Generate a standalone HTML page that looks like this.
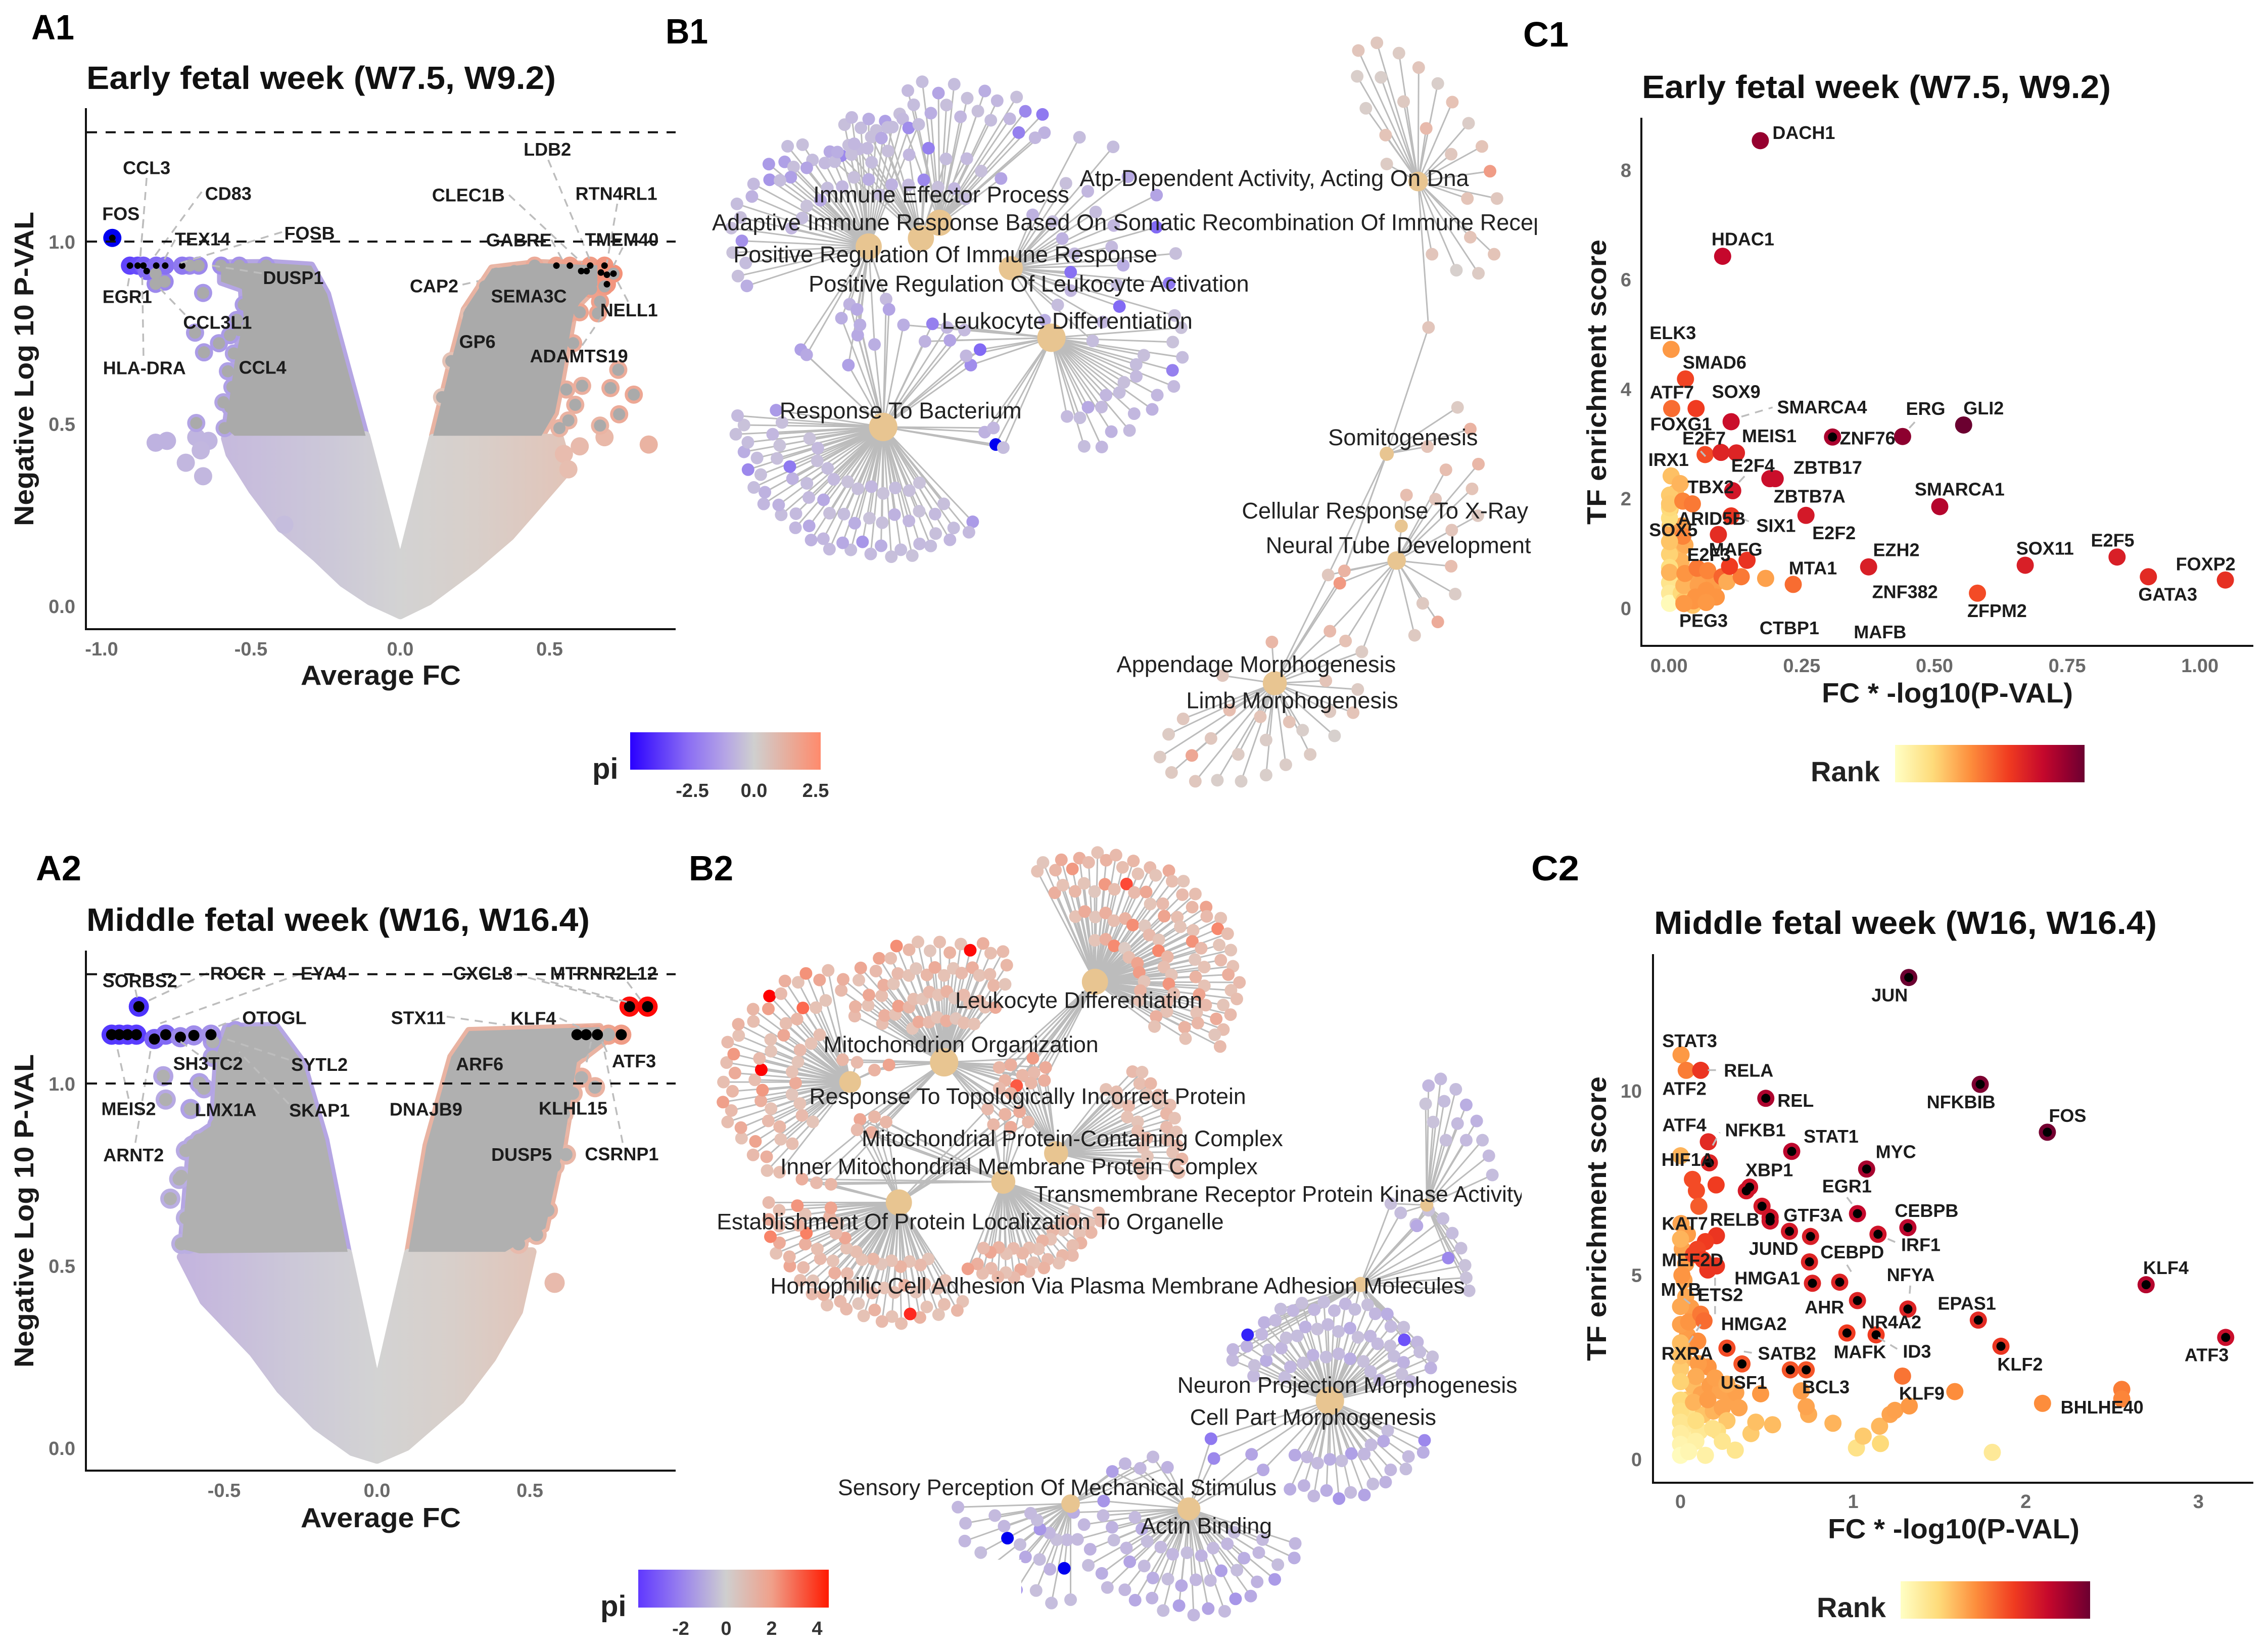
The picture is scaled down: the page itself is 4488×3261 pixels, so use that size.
<!DOCTYPE html>
<html lang="en">
<head>
<meta charset="utf-8">
<title>Fetal week volcano plots, gene networks and TF enrichment</title>
<style>
html,body{margin:0;padding:0;background:#fff}
svg{display:block}
text{font-family:"Liberation Sans",sans-serif}
.b{font-weight:700}
.gene text{font-weight:700;font-size:36px;fill:#1c1c1c;text-anchor:middle}
.term{font-size:44.5px}
.term text{font-weight:400;fill:#222;text-anchor:middle}
.tick{font-weight:700;font-size:38px;fill:#6a6a6a}
.leg{font-weight:700;font-size:38px;fill:#333}
</style>
</head>
<body>
<svg id="figure" xmlns="http://www.w3.org/2000/svg" width="4488" height="3261" viewBox="0 0 4488 3261">
<defs>
<linearGradient id="a1-fill" gradientUnits="userSpaceOnUse" x1="450" y1="0" x2="1130" y2="0">
<stop offset="0" stop-color="#c6badd"/><stop offset=".3" stop-color="#ccc8d8"/><stop offset=".5" stop-color="#d3d3d3"/><stop offset=".72" stop-color="#d8cfca"/><stop offset="1" stop-color="#e2c4b8"/>
</linearGradient>
<linearGradient id="a2-fill" gradientUnits="userSpaceOnUse" x1="370" y1="0" x2="1070" y2="0">
<stop offset="0" stop-color="#c4b5de"/><stop offset=".3" stop-color="#ccc8d8"/><stop offset=".54" stop-color="#d3d3d3"/><stop offset=".75" stop-color="#d8cfca"/><stop offset="1" stop-color="#e2c4b8"/>
</linearGradient>
<linearGradient id="pi-bar-1"><stop offset="0" stop-color="#2a00ff"/><stop offset=".3" stop-color="#8a6cf4"/><stop offset=".5" stop-color="#b5a5e5"/><stop offset=".65" stop-color="#cfcfcf"/><stop offset=".85" stop-color="#eaa996"/><stop offset="1" stop-color="#ff8a6c"/></linearGradient>
<linearGradient id="pi-bar-2"><stop offset="0" stop-color="#6038ff"/><stop offset=".22" stop-color="#9880ee"/><stop offset=".46" stop-color="#cfcfcf"/><stop offset=".7" stop-color="#f0a08a"/><stop offset="1" stop-color="#ff1a00"/></linearGradient>
<linearGradient id="rank-bar"><stop offset="0" stop-color="#ffffc4"/><stop offset=".2" stop-color="#fedb7a"/><stop offset=".4" stop-color="#fd8d3c"/><stop offset=".6" stop-color="#f03b20"/><stop offset=".78" stop-color="#c5082c"/><stop offset=".9" stop-color="#96002f"/><stop offset="1" stop-color="#6b0030"/></linearGradient>
<clipPath id="clip-b1"><rect x="1300" y="0" width="1741" height="1600"/></clipPath>
<clipPath id="clip-b2"><rect x="1300" y="1650" width="1711" height="1611"/></clipPath>
</defs>

<!-- Panel letters -->
<text class="b" x="62" y="78" font-size="70" textLength="85" lengthAdjust="spacingAndGlyphs">A1</text>
<text class="b" x="1317" y="86" font-size="70" textLength="84" lengthAdjust="spacingAndGlyphs">B1</text>
<text class="b" x="3014" y="92" font-size="70" textLength="90" lengthAdjust="spacingAndGlyphs">C1</text>
<text class="b" x="71" y="1742" font-size="70" textLength="90" lengthAdjust="spacingAndGlyphs">A2</text>
<text class="b" x="1363" y="1742" font-size="70" textLength="88" lengthAdjust="spacingAndGlyphs">B2</text>
<text class="b" x="3030" y="1742" font-size="70" textLength="95" lengthAdjust="spacingAndGlyphs">C2</text>

<!-- Titles -->
<text class="b" x="171" y="176" font-size="64" fill="#111" textLength="929" lengthAdjust="spacingAndGlyphs">Early fetal week (W7.5, W9.2)</text>
<text class="b" x="3249" y="194" font-size="64" fill="#111" textLength="928" lengthAdjust="spacingAndGlyphs">Early fetal week (W7.5, W9.2)</text>
<text class="b" x="171" y="1842" font-size="64" fill="#111" textLength="996" lengthAdjust="spacingAndGlyphs">Middle fetal week (W16, W16.4)</text>
<text class="b" x="3273" y="1848" font-size="64" fill="#111" textLength="995" lengthAdjust="spacingAndGlyphs">Middle fetal week (W16, W16.4)</text>

<!-- Mark layers -->
<g id="a1-marks"></g>
<g id="a2-marks"></g>
<g id="b1-edges"></g>
<g id="b1-nodes"></g>
<g id="b2-edges"></g>
<g id="b2-nodes"></g>
<g id="c1-marks"></g>
<g id="c2-marks"></g>
<g id="axes"></g>

<!-- Axis spines -->
<path d="M170 214V1245H1337" fill="none" stroke="#111" stroke-width="4"/>
<path d="M170 1881V2910H1337" fill="none" stroke="#111" stroke-width="4"/>
<path d="M3248 233V1278H4459" fill="none" stroke="#111" stroke-width="4"/>
<path d="M3271 1888V2934H4459" fill="none" stroke="#111" stroke-width="4"/>

<!-- Axis titles -->
<text class="b" x="595" y="1355" font-size="55" fill="#1a1a1a" textLength="317" lengthAdjust="spacingAndGlyphs">Average FC</text>
<text class="b" x="595" y="3022" font-size="55" fill="#1a1a1a" textLength="317" lengthAdjust="spacingAndGlyphs">Average FC</text>
<text class="b" transform="translate(66,730) rotate(-90)" x="-311" y="0" font-size="54" fill="#1a1a1a" textLength="622" lengthAdjust="spacingAndGlyphs">Negative Log 10 P-VAL</text>
<text class="b" transform="translate(66,2396) rotate(-90)" x="-310" y="0" font-size="54" fill="#1a1a1a" textLength="620" lengthAdjust="spacingAndGlyphs">Negative Log 10 P-VAL</text>
<text class="b" x="3605" y="1390" font-size="55" fill="#1a1a1a" textLength="497" lengthAdjust="spacingAndGlyphs">FC * -log10(P-VAL)</text>
<text class="b" x="3617" y="3044" font-size="55" fill="#1a1a1a" textLength="498" lengthAdjust="spacingAndGlyphs">FC * -log10(P-VAL)</text>
<text class="b" transform="translate(3178,756) rotate(-90)" x="-282" y="0" font-size="54" fill="#1a1a1a" textLength="564" lengthAdjust="spacingAndGlyphs">TF enrichment score</text>
<text class="b" transform="translate(3178,2411) rotate(-90)" x="-282" y="0" font-size="54" fill="#1a1a1a" textLength="563" lengthAdjust="spacingAndGlyphs">TF enrichment score</text>

<!-- Colour legends -->
<g>
<rect x="1247" y="1449" width="377" height="74" fill="url(#pi-bar-1)"/>
<text class="b" x="1172" y="1541" font-size="58" fill="#222">pi</text>
</g>
<g>
<rect x="1263" y="3106" width="377" height="75" fill="url(#pi-bar-2)"/>
<text class="b" x="1188" y="3198" font-size="58" fill="#222">pi</text>
</g>
<g>
<rect x="3750" y="1474" width="375" height="74" fill="url(#rank-bar)"/>
<text class="b" x="3583" y="1546" font-size="56" fill="#222">Rank</text>
</g>
<g>
<rect x="3761" y="3129" width="375" height="74" fill="url(#rank-bar)"/>
<text class="b" x="3595" y="3200" font-size="56" fill="#222">Rank</text>
</g>

<!-- Network term labels -->
<g class="term zoomed" style="font-size:45.2px" data-t="1300,0,1.148,1.0204" clip-path="url(#clip-b1)">
<text x="490" y="377">Immune Effector Process</text>
<text x="1064" y="345">Atp-Dependent Activity, Acting On Dna</text>
<text x="95" y="431" style="text-anchor:start">Adaptive Immune Response Based On Somatic Recombination Of Immune Receptors Built From Immunoglobulin Superfamily Domains</text>
<text x="497" y="493">Positive Regulation Of Immune Response</text>
<text x="641" y="550">Positive Regulation Of Leukocyte Activation</text>
<text x="707" y="622">Leukocyte Differentiation</text>
<text x="420" y="796">Response To Bacterium</text>
<text x="1286" y="848">Somitogenesis</text>
<text x="1255" y="990">Cellular Response To X-Ray</text>
<text x="1278" y="1057">Neural Tube Development</text>
<text x="1033" y="1288">Appendage Morphogenesis</text>
<text x="1095" y="1358">Limb Morphogenesis</text>
</g>
<g class="term zoomed" data-t="1300,1650,1.148,1.0274" clip-path="url(#clip-b2)">
<text x="727" y="320">Leukocyte Differentiation</text>
<text x="524" y="405">Mitochondrion Organization</text>
<text x="639" y="505">Response To Topologically Incorrect Protein</text>
<text x="716" y="586">Mitochondrial Protein-Containing Complex</text>
<text x="624" y="640">Inner Mitochondrial Membrane Protein Complex</text>
<text x="650" y="693" style="text-anchor:start">Transmembrane Receptor Protein Kinase Activity</text>
<text x="540" y="746">Establishment Of Protein Localization To Organelle</text>
<text x="794" y="870">Homophilic Cell Adhesion Via Plasma Membrane Adhesion Molecules</text>
<text x="1190" y="1061">Neuron Projection Morphogenesis</text>
<text x="1131" y="1123">Cell Part Morphogenesis</text>
<text x="690" y="1258">Sensory Perception Of Mechanical Stimulus</text>
<text x="947" y="1332">Actin Binding</text>
</g>

<!-- Gene labels -->
<g class="gene zoomed" data-t="0,0,.8929,1.0204">
<text x="325" y="325">CCL3</text>
<text x="506" y="375">CD83</text>
<text x="268" y="414">FOS</text>
<text x="449" y="463">TEX14</text>
<text x="686" y="452">FOSB</text>
<text x="1213" y="289">LDB2</text>
<text x="1038" y="378">CLEC1B</text>
<text x="1366" y="375">RTN4RL1</text>
<text x="1150" y="465">GABRE</text>
<text x="1378" y="464">TMEM40</text>
<text x="282" y="575">EGR1</text>
<text x="650" y="538">DUSP1</text>
<text x="482" y="625">CCL3L1</text>
<text x="320" y="713">HLA-DRA</text>
<text x="582" y="712">CCL4</text>
<text x="962" y="554">CAP2</text>
<text x="1172" y="574">SEMA3C</text>
<text x="1394" y="601">NELL1</text>
<text x="1058" y="662">GP6</text>
<text x="1283" y="690">ADAMTS19</text>
</g>
<g class="gene zoomed" data-t="0,1650,.8929,1.0274">
<text x="310" y="283">SORBS2</text>
<text x="525" y="268">ROCR</text>
<text x="717" y="268">EYA4</text>
<text x="1070" y="268">CXCL8</text>
<text x="1338" y="268">MTRNR2L12</text>
<text x="608" y="354">OTOGL</text>
<text x="927" y="354">STX11</text>
<text x="1182" y="355">KLF4</text>
<text x="461" y="442">SH3TC2</text>
<text x="708" y="444">SYTL2</text>
<text x="1063" y="443">ARF6</text>
<text x="1405" y="437">ATF3</text>
<text x="285" y="529">MEIS2</text>
<text x="500" y="531">LMX1A</text>
<text x="708" y="532">SKAP1</text>
<text x="944" y="530">DNAJB9</text>
<text x="1270" y="528">KLHL15</text>
<text x="296" y="618">ARNT2</text>
<text x="1156" y="617">DUSP5</text>
<text x="1378" y="616">CSRNP1</text>
</g>
<g class="gene zoomed" data-t="3000,0,.949,1.0204">
<text x="600" y="257">DACH1</text>
<text x="473" y="463">HDAC1</text>
<text x="327" y="645">ELK3</text>
<text x="414" y="702">SMAD6</text>
<text x="325" y="760">ATF7</text>
<text x="459" y="759">SOX9</text>
<text x="638" y="789">SMARCA4</text>
<text x="854" y="792">ERG</text>
<text x="975" y="791">GLI2</text>
<text x="344" y="822">FOXG1</text>
<text x="392" y="849">E2F7</text>
<text x="528" y="845">MEIS1</text>
<text x="733" y="849">ZNF76</text>
<text x="318" y="891">IRX1</text>
<text x="494" y="902">E2F4</text>
<text x="650" y="906">ZBTB17</text>
<text x="406" y="944">TBX2</text>
<text x="925" y="948">SMARCA1</text>
<text x="612" y="962">ZBTB7A</text>
<text x="408" y="1005">ARID5B</text>
<text x="542" y="1019">SIX1</text>
<text x="328" y="1027">SOX5</text>
<text x="663" y="1033">E2F2</text>
<text x="402" y="1075">E2F3</text>
<text x="458" y="1065">MAFG</text>
<text x="793" y="1066">EZH2</text>
<text x="1103" y="1063">SOX11</text>
<text x="1244" y="1047">E2F5</text>
<text x="1438" y="1093">FOXP2</text>
<text x="619" y="1101">MTA1</text>
<text x="811" y="1147">ZNF382</text>
<text x="1359" y="1152">GATA3</text>
<text x="1003" y="1184">ZFPM2</text>
<text x="391" y="1203">PEG3</text>
<text x="570" y="1217">CTBP1</text>
<text x="759" y="1225">MAFB</text>
</g>
<g class="gene zoomed" data-t="3000,1650,.949,1.0274">
<text x="779" y="310">JUN</text>
<text x="362" y="398">STAT3</text>
<text x="485" y="455">RELA</text>
<text x="351" y="490">ATF2</text>
<text x="928" y="516">NFKBIB</text>
<text x="583" y="513">REL</text>
<text x="1150" y="542">FOS</text>
<text x="351" y="560">ATF4</text>
<text x="499" y="570">NFKB1</text>
<text x="657" y="582">STAT1</text>
<text x="792" y="612">MYC</text>
<text x="358" y="627">HIF1A</text>
<text x="528" y="647">XBP1</text>
<text x="690" y="678">EGR1</text>
<text x="856" y="725">CEBPB</text>
<text x="620" y="734">GTF3A</text>
<text x="352" y="750">KAT7</text>
<text x="456" y="742">RELB</text>
<text x="844" y="791">IRF1</text>
<text x="537" y="798">JUND</text>
<text x="701" y="805">CEBPD</text>
<text x="368" y="820">MEF2D</text>
<text x="823" y="849">NFYA</text>
<text x="1355" y="835">KLF4</text>
<text x="524" y="855">HMGA1</text>
<text x="344" y="877">MYB</text>
<text x="426" y="887">ETS2</text>
<text x="940" y="904">EPAS1</text>
<text x="643" y="911">AHR</text>
<text x="783" y="940">NR4A2</text>
<text x="496" y="943">HMGA2</text>
<text x="565" y="1000">SATB2</text>
<text x="357" y="1000">RXRA</text>
<text x="717" y="997">MAFK</text>
<text x="836" y="996">ID3</text>
<text x="1440" y="1003">ATF3</text>
<text x="1051" y="1021">KLF2</text>
<text x="475" y="1056">USF1</text>
<text x="646" y="1065">BCL3</text>
<text x="846" y="1077">KLF9</text>
<text x="1222" y="1104">BHLHE40</text>
</g>
</svg>

<script>
// ---------- A1 volcano values (average FC, -log10 p, pi) ----------
const a1XTicks=[-1,-0.5,0,0.5];
const a1YTicks=[0,0.5,1];
const a1Thresholds=[1,1.3];
const a1LowerFC=[0,-.116,-.585,-.57,-.494,-.403,-.282,-.192,-.101,0,.095,.246,.367,.443,.563,.533,.11];
const a1LowerP=[.106,.467,.46,.417,.318,.219,.134,.064,.014,-.024,.014,.106,.191,.262,.375,.46,.46];
const a1LeftFC=[-.116,-.245,-.298,-.434,-.6,-.6,-.53,-.524,-.554,-.585,-.555];
const a1LeftP=[.467,.856,.934,.941,.94,.89,.87,.785,.672,.488,.467];
const a1RightFC=[.11,.171,.216,.307,.458,.66,.66,.6,.58,.54,.518,.473];
const a1RightP=[.467,.672,.813,.926,.941,.935,.88,.83,.8,.62,.53,.467];
const a1CoreFC=[-.964,-.905,-.879,-.86,-.849,-.817,-.787,-.73,.523,.568,.606,.624,.636,.672,.684,.692,.714,.692];
const a1CoreP=[1.01,.934,.934,.934,.919,.934,.934,.934,.934,.934,.919,.919,.934,.915,.934,.909,.912,.883];
const a1CorePi=[-4.6,-2.9,-2.8,-2.6,-2.4,-2.4,-2.3,-2.2,1.8,1.9,2,2,2,2.2,2.2,2.3,2.3,2.2];
const a1RimFC=[-.819,-.789,-.819,-.705,-.675,-.6,-.539,-.449,-.66,-.687,-.607,-.657,-.557,-.562,-.569,-.588,-.683,-.524,-.539,.45,.382,.322,.284,.669,.662,.601,.56,.518,.465,.579,.503,.73,.704,.782,.733,.609,.556,.503,.586,.563,.533,.669,.639,.684,.714,-.517,-.547,-.57,-.524,-.577,-.592,-.532,.48,.458,.473,.45,.412,.495,.563,.624,.518,.292,.231,.171,.14];
const a1RimP=[.912,.89,.884,.934,.934,.934,.934,.934,.859,.75,.721,.696,.693,.601,.545,.488,.502,.827,.757,.934,.919,.912,.877,.835,.803,.806,.799,.774,.799,.721,.707,.648,.598,.58,.526,.604,.594,.601,.552,.509,.488,.495,.87,.877,.912,.891,.785,.743,.7,.644,.559,.53,.757,.672,.573,.516,.813,.842,.856,.891,.898,.827,.8,.672,.573];
const a1RimPi=[-2.1,-2,-2,-2,-2,-1.9,-1.8,-1.7,-1.7,-1.6,-1.6,-1.6,-1.5,-1.5,-1.4,-1.4,-1.4,-1.6,-1.5,1.6,1.4,1.3,1.3,1.9,1.8,1.8,1.7,1.6,1.6,1.6,1.5,1.6,1.6,1.7,1.6,1.5,1.5,1.4,1.5,1.4,1.4,1.4,1.9,2,2.1,-1.7,-1.6,-1.6,-1.5,-1.5,-1.4,-1.4,1.5,1.4,1.4,1.3,1.5,1.6,1.7,1.8,1.7,1.2,1.1,1,.9];
const a1PaleFC=[-.819,-.781,-.642,-.683,-.668,-.718,-.66,-.388,.832,.684,.601,.548,.563];
const a1PaleP=[.448,.453,.453,.463,.427,.393,.356,.223,.443,.463,.438,.417,.375];
const a1PalePi=[-1.1,-1.1,-1.05,-1.05,-1,-1,-1,-.8,1.4,1.25,1.2,1.15,1.1];
const a1PiTicks=[-2.5,0,2.5];

// ---------- A2 volcano values ----------
const a2XTicks=[-0.5,0,0.5];
const a2YTicks=[0,0.5,1];
const a2Thresholds=[1,1.3];
const a2LowerFC=[0,-.096,-.64,-.566,-.404,-.316,-.199,-.081,0,.096,.272,.375,.463,.507,.103];
const a2LowerP=[.161,.534,.524,.403,.261,.161,.061,-.01,-.031,.004,.132,.246,.375,.538,.534];
const a2LeftFC=[-.096,-.169,-.243,-.331,-.493,-.522,-.537,-.61,-.64,-.581];
const a2LeftP=[.538,.845,1.058,1.158,1.155,1.087,.887,.845,.546,.534];
const a2RightFC=[.103,.162,.243,.301,.728,.743,.654,.61,.551,.419];
const a2RightP=[.538,.83,1.073,1.144,1.155,1.115,1.058,.83,.603,.538];
const a2CoreFC=[-.868,-.843,-.816,-.787,-.779,-.728,-.691,-.643,-.599,-.543,.654,.684,.721,.799,.826,.885];
const a2CoreP=[1.134,1.134,1.134,1.134,1.211,1.122,1.134,1.127,1.132,1.134,1.134,1.134,1.134,1.134,1.211,1.211];
const a2CorePi=[-3.1,-3.1,-3,-3,-3.2,-2.5,-2.4,-2,-1.9,-1.8,1.6,1.7,1.7,2,4.3,4.4];
const a2RimFC=[-.699,-.691,-.61,-.581,-.493,-.603,-.647,-.676,-.596,-.596,-.61,-.618,-.463,.713,.669,.618,.596,.551,.559,.522,.478,.757,-.537,-.566,-.522,-.581,-.625,-.64,-.625,-.64,-.537,.669,.64,.61,.581,.522,.537,.463];
const a2RimP=[1.02,.956,.93,1.001,.987,.83,.738,.684,.774,.688,.603,.56,1.144,.99,1.016,.805,.873,.702,.652,.585,.603,1.134,1.073,.987,.887,.845,.816,.745,.631,.56,1.115,1.087,.973,.916,.774,.645,.702,.56];
const a2RimPi=[-1.4,-1.3,-1.5,-1.5,-1.5,-1.3,-1.2,-1.2,-1.3,-1.2,-1.2,-1.2,-1.6,1.4,1.5,1.3,1.3,1.3,1.4,1.3,1.3,1.8,-1.5,-1.4,-1.4,-1.3,-1.3,-1.2,-1.2,-1.2,-1.6,1.4,1.4,1.3,1.3,1.2,1.2,1.2];
const a2PaleFC=[.581];
const a2PaleP=[.453];
const a2PalePi=[1.2];
const a2PiTicks=[-2,0,2,4];

// ---------- C1 TF enrichment values ----------
const c1XTicks=[0,.25,.5,.75,1];
const c1YTicks=[0,2,4,6,8];
const c1Rank=[22,18,15,12,8,3,20,25,30,38,35,38,38,30,33,36,42,38,45,42,50,32,26,45,35,48,56,58,56,60,60,62,63,65,68,68,70,70,72,73,76,76,76,78,85,90,92,100,18,20,24,27,25,30,42,45,48,37,38,37,37];
const c1Fold=[.001,.001,.001,.001,.001,.001,.023,.028,.028,.046,.055,.07,.089,.001,.003,.025,.026,.03,.053,.073,.1,.109,.001,.136,.182,.234,.068,.031,.581,.051,.114,.117,.147,.093,.098,.127,.376,.671,.258,.12,.19,.2,.117,.101,.308,.172,.44,.555,.001,.001,.001,.004,.001,.021,.026,.044,.005,.004,.05,.028,.07];
const c1Score=[.98,.74,.46,.27,.085,.085,.27,.13,.41,.13,.41,.32,.2,.65,1.4,1.5,1.31,.63,.725,.68,.57,.48,1.21,.57,.54,.43,2.8,4.18,.27,3.64,.76,1.68,.87,1.34,2.84,2.83,.75,.78,1.69,2.14,2.36,2.36,3.4,6.42,3.12,8.53,3.13,3.34,1.64,1.83,2.06,2.41,1.9,2.27,1.95,1.9,3.64,4.72,.2,.08,.1];
const c1CoreFold=[.308];
const c1CoreScore=[3.12];
const c1ExtraFold=[.844,.903,1.048,.51,.023,.012,.002,.023,.04,.06,.045,.01,.002,.012,.03,.065,.085];
const c1ExtraScore=[.93,.57,.51,1.85,1.1,.85,1.5,.85,.55,.25,.05,.55,1.8,2.1,1.15,.52,.42];
const c1ExtraRank=[70,66,64,82,28,24,24,30,34,30,26,18,26,28,32,36,36];
const c1LegendTicks=[20,40,60,80,99];

// ---------- C2 TF enrichment values ----------
const c2XTicks=[0,1,2,3];
const c2YTicks=[0,5,10];
const c2Fold=[0,0,0,0,0,0,.075,.089,.089,.047,.158,.242,.339,.269,.214,.242,.317,.144,.186,.408,.436,.533,.883,.742,.728,.7,.464,.2,.269,.103,.089,0,0,0,0,0,0,.047,1.019,1.158,1.058,1.153,1.806,1.214,1.242,1.325,1.589,1.286,2.097,2.556,2.556,.003,0,.003,0,.008,.117,.136,.033,.117,.161,.069,.092,.206,.106,.208,.144,.097,.075,.158,.208,.13];
const c2Score=[1.6,1.3,1,.7,.4,.1,1.54,1.04,.48,.2,1.61,1.39,1.39,1.04,.76,.48,.24,.1,.83,.69,1,.93,.97,1.21,1.42,1.85,1.77,2.2,2.03,2.59,2.24,2.45,2.1,2.8,3.15,3.65,4.14,3.72,.3,.42,.62,.89,.18,1.21,1.32,1.44,1.83,2.25,1.51,1.89,1.63,10.97,8.23,6.39,5.97,4.99,3.93,3.75,10.55,10.55,8.61,7.59,7.28,7.44,6.86,6.06,5.9,5.69,5.55,5.13,5.24,5.41];
const c2Rank=[20,18,14,10,6,2,30,18,8,5,36,34,34,25,18,14,14,8,16,24,27,28,30,32,34,36,37,35,32,36,32,24,22,27,28,35,33,38,16,20,24,29,12,34,35,37,40,46,40,44,42,37,30,34,30,38,45,48,44,62,66,56,56,60,52,62,60,58,58,62,62,60];
const c2ExtraFold=[.03,.06,.11,.02,.05,.13,.19,.29,.035,.07,.12,.17,.23,.32,.02,.05,.04,.1,.16,.03,.06,.02,.03,.01,.04];
const c2ExtraScore=[.2,.55,.75,.9,1.2,1.2,1.3,1.65,1.6,2,1.75,2,1.85,1.8,2.7,3.05,3.35,3.2,2.5,4.4,4.1,4.85,5.3,5.7,6.1];
const c2ExtraRank=[4,9,13,12,16,26,30,34,26,28,34,36,34,35,30,34,36,40,38,33,36,34,36,34,36];
const c2CoreFold=[.167,.269,.356,.636,.728,.381,.4,.472,.519,.519,.631,.753,.747,.764,.922,1.025,1.025,1.133,.964,1.144,1.317,1.317,.644,.494,1.078,1.725,1.856,2.697,3.158,1.736,2.125,1.322];
const c2CoreScore=[8.04,3.01,2.58,2.42,2.42,7.28,7.38,6.86,6.56,6.46,6.18,6.04,5.35,4.77,4.8,6.66,4.3,3.37,3.42,6.1,6.28,4.07,8.35,9.79,7.87,3.77,3.06,4.73,3.3,10.17,8.87,13.07];
const c2CoreRank=[68,56,54,54,54,72,74,72,74,74,72,70,68,68,68,78,68,60,60,74,80,68,80,84,86,66,62,82,76,96,98,100];
const c2LegendTicks=[10,40,70,95];

// ---------- B1 network: pi per gene ----------
const b1BactOuterPi=[-1.6,-.9,-.8,-1,-.7,-.8,-.9,-.6,-.8,-.7,-1.2,-.9,-1.7,-.8,-1.3,-.9,-1,-1.1,-1.3,-1,-.9,-.8,-1.1,-1,-1.1,-.8,-.7,-2,-.8,-1.2,-.8,-.7,-.6,-.9];
const b1BactMidPi=[-.7,-.9,-.6,-1,-1.1,-.7,-.6,-1.2,-.8,-.7,-1.3,-.9,-.8,-1.1,-2.2,-.7,-.6,-1,-.7,-1.6];
const b1BactInnerPi=[-.6,-.7,-.8,-.6,-1,-.7,-.6,-.9,-.8,-.7,-.9,-.6];
const b1DiffOuterPi=[-.8,-1,-1.1,-.9,-1,-1.1,-1,-.9,-2.1,-.8,-.6,-.6];
const b1DiffInnerPi=[-.9,-.8,-1.3,-.9,-1,-.8,-.7,-.9,-.8,-.7];
const b1TopOuterPi=[-.9,-.8,-1.4,-.8,-.7,-1.2,-1,-.7,-2,-2.2,-1.1];
const b1TopMidPi=[-.7,-.8,-1.2,-.7,-1,-.7,-.8,-1,-2.1,-1];
const b1TopInnerPi=[-.8,-.7,-1,-2.1,-.8,-.9,-.7,-1.4];
const b1TopCorePi=[-.8,-1.1,-.9,-2,-.7,-1,-.8];
const b1LeftOuterPi=[-.7,-.8,-1.5,-1.6,-1.7,-.9,-1.1,-.8,-.7,-.7,-1.8,-.6,-.8,-.7,-1.2];
const b1LeftMidPi=[-.9,-.7,-2,-1.3,-.9,-.8,-1.4,-.7,-1.5,-.8];
const b1LeftInnerPi=[-1.2,-.7,-1,-.8,-1.3,-.6,-.8,-1];
const b1GapPi=[-.7,-.9,-.8,-1.2,-.7,-1.5,-.8,-.9,-1.9,-.8];
const b1GapInnerPi=[-.8,-1.2,-.7,-1,-.9,-.7,-1.3,-.8];
const b1ActivOuterPi=[-.8,-.8,-1.3,-1.4,-2.4,-.7,-2.2,-.7];
const b1ActivMidPi=[-.7,-1,-.8,-1,-.9,-1.2,-.8,-2.4,-1,-.8];
const b1ActivInnerPi=[-1.1,-.8,-1.1,-.9,-2.3,-1,-.8,-1.2];
const b1SharedPi=[-1.5,-1.3,-1.5,-1.2,-1.3,-1.2,-1.2,-1.1,-1.3,-.9,-1.4,-2.1,-1.2,-1.1,-1.4,-.9,-1,-2.4,-1.9,-1];
const b1TailPi=[-1.1,-4.4,-.8,-1];
const b1AtpPi=[.8,.7,.5,.8,.3,1,.4,.9,2,.7,.9,.9,.5,.2,.8,.3,.3,.3,.6,.9,1.2,.5,.7,.9];
const b1BridgePi=[.8];
const b1SomitoPi=[.5,1.4,.9];
const b1NeuralPi=[1.3,1.1,.9,1.1,.8,.8,.6,1.1,.4,.6,1.6,.6];
const b1SharedLimbPi=[1.4,2.1,.7];
const b1LimbPi=[1.3,.8,.7,.9,.5,.9,.6,.3,.2,.5,.4,.3,.4,.3,.3,.7,.6,.5,1.7,.7,.5,.5,.7,1.1,.9,.9];
const b1LimbTopPi=[1,1.2,.5];

// ---------- B2 network: pi per gene ----------
const b2DiffOuterPi=[1,.8,1.3,1.6,2.1,1.5,1.2,1,1.4,1.2,1.1,1.3,1,1.2,.9,1.6,1.1,.9,1.2,1.1,1.3,1.8,1.2,1,2.6,1.1,.9,.9,1.2,1,1.5,1.2,1,1.1,.9,1.2,1.6,1.1,.8,1.2];
const b2DiffMidPi=[1.5,1,1.3,.9,.7,2.1,1.1,3.6,1.2,1.7,.9,1.2,1.8,1.1,.9,1,2.3,1.2,.8,1,1.4,1,1.8,1.2,1,1.3,1.4,1];
const b2DiffInnerPi=[1,1.6,.8,1.5,1.1,1.4,2.4,.7,1.2,.9,2.6,1.3,1.1,.9,2.2,1.1,1.2,1,1.5,1];
const b2DiffCorePi=[.9,1.5,2.5,.5,1.1,1.8,2,.9,1.4,1];
const b2MitoOuterPi=[1.2,1.5,1,1.7,1.2,1.8,1.1,2.4,1.3,1,.8,1.1,1.4,1,4.4,1.5,1.1,1.2,1.3];
const b2MitoMidPi=[1.2,1.4,1,1.7,1.1,1.5,.9,1.2,1,.8,1.3,1.6,1,.9,1.2,1.5,1,1.1,1.3,.9];
const b2MitoInnerPi=[1.1,1.5,1,1.9,1.3,1.1,.9,1.2,1,1.4,.7,1.2,1.1,1.3,1,1.6];
const b2MitoCorePi=[.9,1.6,1.2,1,1.5,.8,1.1,1];
const b2TopoOuterPi=[1.1,1,1.5,1.2,1.8,1,1.6,1.1,1.2,1.9,1.3,1.1,1.6,1.1,2.1,1.2,1,1.4,1.1,1.3,1.9,4.6,1.2,1.5,1,2.3,1.7,1.1];
const b2TopoMidPi=[1.1,1,1.3,1.2,1,1.5,2.1,1.1,4.7,1.2,.9,1,1.7,1.1,1.3,3.2,1,.9];
const b2TopoInnerPi=[.9,1.2,1,.8,1.6,1,.9,1.2,1,1.1];
const b2LocOuterPi=[1,1.3,1.1,.9,1,1.4,4,1.1,1,1.2,1.4,1,.8,1.2,1.2,1,1.4,1.2,.9,1.1,1.2,1.7,1.3,1,1.6,2.7,1.2,1.6,1.1,1.2];
const b2LocMidPi=[1.1,1,1.3,.9,1.4,1.1,1,1.2,1.1,.9,1.2,1.5,1,1.2,1.1,1.5,2.8,1.4,1,2.2];
const b2LocInnerPi=[.9,1.2,1,1.4,1,.8,1.3,1,1.1,1,1.7,1.2,1,1.4,1.8];
const b2InnerOuterPi=[1.1,1.2,1,1.3,1,1.4,1.1,1.2,1.3,1,1.2,1.4,1,1.2,1.6,1.2,1,1.3,1.2,1.1,1.5,1.9];
const b2InnerMidPi=[1,1.2,1.1,.9,1.3,1,1.4,1,1.1,1.3,1.2,1,1.4,1.7,1.2];
const b2ProtOuterPi=[1.2,1,1.1,1.3,1,1.2,.9,1.1,1.3,1,1.2,1,1.1,1.2,1,1.3,1,1.1];
const b2ProtMidPi=[1,1.1,.9,1.2,1,.9,1.1,1.3,1,.9,1.1,1];
const b2ClusterPi=[1.3,1.5,2,1.3,1.2,1.6,1.4,3.4,1.3,1.5,1.2,1.4,1.7,1.3,1.2,1.5,1.3,1.2,1.4,1.6,1.3,1.6,1.3,1.5,1.2,1.3,1.4,1.8,1.2,1.3];
const b2KinasePi=[-1,-.9,-.8,-1.2,-1.1,-.8,-.9,-.8,-.5,-.8,-.9,-.6,-.9,-.7];
const b2HomoPi=[-.8,-.7,-.6,-.8,-.8,-.7,-2,-.6,-.6,-.7,-.7,-1.3];
const b2NeuronTopOuterPi=[-.9,-1,-1.1,-3.6,-1,-1.1,-.9,-.8,-1,-.7,-1,-.8,-.9,-1,-.8,-.7,-1,-1.2,-.9,-.7,-2.7,-1,-.8,-.7,-1.1];
const b2NeuronTopMidPi=[-.9,-.7,-1.2,-.8,-1,-.7,-.8,-1.1,-.7,-.9,-.8,-1.2,-.7,-1,-.9,-.7,-.8,-1.1,-.7,-.9];
const b2NeuronTopInnerPi=[-.8,-1,-.7,-1.1,-.8,-.9,-1.2,-.7,-.8,-1];
const b2NeuronLowOuterPi=[-2,-1.2,-.9,-.8,-1,-1.1,-.8,-1.4,-.9,-1.7,-1.2,-1,-1.1,-1.2];
const b2NeuronLowMidPi=[-.8,-1.3,-.9,-1,-1.5,-.8,-1.2,-.9,-1,-1.3];
const b2BridgePi=[-2.2,-2,-1.3,-1.4];
const b2SensoryOuterPi=[-.8,-.8,-.7,-1.9,-.8,-.9,-.8,-1,-.9,-1];
const b2SensoryMidPi=[-4.4,-1.1,-.8,-1.3,-.8,-4.4,-1,-.9];
const b2SensoryInnerPi=[-.9,-.7,-1,-1.7,-.8,-.9];
const b2ActinOuterPi=[-1,-1.2,-.8,-1.6,-1.1,-1.3,-1.7,-.9,-1.4,-1,-1.5,-.8,-1.1,-1.3,-1,-.9,-1.2,-.8,-1.1,-.9,-1,-1.2];
const b2ActinMidPi=[-.9,-1,-1.2,-.8,-1.5,-.9,-1,-1.3,-.8,-1.2,-.9,-1.4,-1,-.8,-1.1,-.9];
const b2ActinInnerPi=[-.8,-1,-.9,-1.1,-.8,-1,-.9,-.8,-1.2,-.9];
const b2ActinTopPi=[-1.5,-1,-1,-.9,-1.1,-1.7];

// ---------- scales and layout (not data) ----------
const NS='http://www.w3.org/2000/svg';
const $=id=>document.getElementById(id);
function mk(tag,attrs,parent){
  const e=document.createElementNS(NS,tag);
  for(const k in attrs)e.setAttribute(k,attrs[k]);
  parent.appendChild(e);
  return e;
}
const a1X=v=>792+591*v, a1Y=v=>1199-721*v;
const a2X=v=>746+605*v, a2Y=v=>2865-721*v;
const c1X=v=>3302.7+1050.5*v, c1Y=v=>1203-108.4*v;
const c2X=v=>3325.5+341.6*v, c2Y=v=>2887-72.9*v;
const piBarA1=v=>1492+48.8*v, piBarA2=v=>1437+45*v;
const rankBarC1=v=>3750+3.75*v, rankBarC2=v=>3761+3.75*v;

function mix(stops,v){
  if(v<=stops[0][0])return stops[0][1];
  for(let i=1;i<stops.length;i++){
    if(v<=stops[i][0]){
      const t=(v-stops[i-1][0])/(stops[i][0]-stops[i-1][0]);
      const a=stops[i-1][1],b=stops[i][1];
      const h=(s,p)=>parseInt(s.substr(p,2),16);
      const c=p=>Math.round(h(a,p)+(h(b,p)-h(a,p))*t).toString(16).padStart(2,'0');
      return '#'+c(1)+c(3)+c(5);
    }
  }
  return stops[stops.length-1][1];
}
const piStops=[[-4.4,'#0000f0'],[-3,'#5a3cff'],[-2,'#9c88ec'],[-1,'#c2b7df'],[0,'#d3d3d3'],[1,'#e6c2b5'],[2,'#f09c86'],[3,'#fb7a5c'],[4.5,'#ff0000']];
const rankStops=[[0,'#ffffc4'],[20,'#fedb7a'],[40,'#fd8d3c'],[60,'#f03b20'],[78,'#c5082c'],[90,'#96002f'],[100,'#6b0030']];
const piColor=v=>mix(piStops,v);
const rankColor=v=>mix(rankStops,v);

// ---------- axes ----------
function xTicks(vals,fx,y,dec,layer,prefix){
  vals.forEach(v=>{
    const t=mk('text',{x:fx(v),y:y,'text-anchor':'middle','class':'tick'},layer);
    
    
    t.textContent=v.toFixed(dec);
  });
}
function yTicks(vals,fy,x,dec,layer,prefix){
  vals.forEach(v=>{
    const t=mk('text',{x:x,y:fy(v)+14,'text-anchor':'end','class':'tick'},layer);
    
    
    t.textContent=v.toFixed(dec);
  });
}
function thresholds(vals,fy,layer,prefix){
  vals.forEach(v=>{
    const l=mk('line',{x1:172,x2:1337,y1:fy(v),y2:fy(v),stroke:'#111','stroke-width':4,'stroke-dasharray':'20 17'},layer);
    
    
  });
}
function legendTicks(vals,fx,y0,y1,labelY,dec,layer,prefix,showText){
  vals.forEach(v=>{
    const a=mk('line',{x1:fx(v),x2:fx(v),y1:y0,y2:y0+14,stroke:'#fff','stroke-width':3},layer);
    
    
    const b=mk('line',{x1:fx(v),x2:fx(v),y1:y1-14,y2:y1,stroke:'#fff','stroke-width':3},layer);
    
    
    if(showText){
      const t=mk('text',{x:fx(v),y:labelY,'text-anchor':'middle','class':'leg'},layer);
      
      
      t.textContent=v.toFixed(dec);
    }
  });
}

// ---------- volcano ----------
function poly(fc,p,fx,fy,fill,stroke,sw,layer,name){
  const pts=fc.map((v,i)=>fx(v)+','+fy(p[i])).join(' ');
  const e=mk('polygon',{points:pts,fill:fill,stroke:stroke,'stroke-width':sw,'stroke-linejoin':'round'},layer);
  
  
}
function dots(fc,p,pi,fx,fy,layer,r,name){
  fc.forEach((v,i)=>{
    const c=mk('circle',{cx:fx(v),cy:fy(p[i]),r:r,fill:pi?piColor(pi[i]):'#000'},layer);
    
    
  });
}
function inner(fc,p,fx,fy,layer,r,fill,name){
  fc.forEach((v,i)=>{
    const c=mk('circle',{cx:fx(v),cy:fy(p[i]),r:r,fill:fill},layer);
    
    
  });
}
function leaders(list,ox,oy,sx,sy,layer,prefix){
  list.forEach(s=>{
    const l=mk('line',{x1:ox+sx*s[0],y1:oy+sy*s[1],x2:ox+sx*s[2],y2:oy+sy*s[3],stroke:'#bdbdbd','stroke-width':3.5,'stroke-dasharray':'16 12'},layer);
    
    
  });
}
const a1Layer=$('a1-marks'),a2Layer=$('a2-marks');
const greyA1='#aaaaaa',greyA2='#b0b0b0';

poly(a1LeftFC,a1LeftP,a1X,a1Y,'none','#b5a6e3',16,a1Layer,'a1-downregulated-genes-rim');
poly(a1RightFC,a1RightP,a1X,a1Y,'none','#e9b3a2',16,a1Layer,'a1-upregulated-genes-rim');
poly(a1LowerFC,a1LowerP,a1X,a1Y,'url(#a1-fill)','url(#a1-fill)',18,a1Layer,'a1-nonsignificant-genes-region');
dots(a1PaleFC,a1PaleP,a1PalePi,a1X,a1Y,a1Layer,18,'a1-gene-point');
dots(a1RimFC,a1RimP,a1RimPi,a1X,a1Y,a1Layer,18,'a1-gene-point');
dots(a1CoreFC,a1CoreP,a1CorePi,a1X,a1Y,a1Layer,18,'a1-top-gene-point');
poly(a1LeftFC,a1LeftP,a1X,a1Y,greyA1,'none',0,a1Layer,'a1-downregulated-genes-region');
poly(a1RightFC,a1RightP,a1X,a1Y,greyA1,'none',0,a1Layer,'a1-upregulated-genes-region');
inner(a1RimFC,a1RimP,a1X,a1Y,a1Layer,12,greyA1,'a1-gene-point-core');
inner(a1CoreFC,a1CoreP,a1X,a1Y,a1Layer,6.5,'#000','a1-top-gene-marker');

poly(a2LeftFC,a2LeftP,a2X,a2Y,'none','#b5a6e3',16,a2Layer,'a2-downregulated-genes-rim');
poly(a2RightFC,a2RightP,a2X,a2Y,'none','#e9b3a2',16,a2Layer,'a2-upregulated-genes-rim');
poly(a2LowerFC,a2LowerP,a2X,a2Y,'url(#a2-fill)','url(#a2-fill)',18,a2Layer,'a2-nonsignificant-genes-region');
dots(a2PaleFC,a2PaleP,a2PalePi,a2X,a2Y,a2Layer,20,'a2-gene-point');
dots(a2RimFC,a2RimP,a2RimPi,a2X,a2Y,a2Layer,20,'a2-gene-point');
dots(a2CoreFC,a2CoreP,a2CorePi,a2X,a2Y,a2Layer,20,'a2-top-gene-point');
poly(a2LeftFC,a2LeftP,a2X,a2Y,greyA2,'none',0,a2Layer,'a2-downregulated-genes-region');
poly(a2RightFC,a2RightP,a2X,a2Y,greyA2,'none',0,a2Layer,'a2-upregulated-genes-region');
inner(a2RimFC,a2RimP,a2X,a2Y,a2Layer,13,greyA2,'a2-gene-point-core');
inner(a2CoreFC,a2CoreP,a2X,a2Y,a2Layer,11,'#000','a2-top-gene-marker');

const axesLayer=$('axes');
const a1LeaderLayout=[[325,345,310,510],[447,372,340,500],[318,425,310,505],[625,450,400,510],[388,465,360,510],[283,555,288,530],[318,690,315,530],[410,610,355,560],[580,530,470,515],[1215,310,1310,510],[1368,395,1345,510],[1380,480,1360,515],[1128,378,1290,510],[1222,465,1250,510],[1025,552,1060,545],[1392,585,1365,540],[1290,670,1345,600]];
const a2LeaderLayout=[[300,300,305,320],[460,268,320,325],[665,270,355,365],[530,355,470,375],[440,425,400,400],[640,435,500,395],[285,510,258,405],[300,595,335,410],[640,520,530,420],[1140,270,1378,325],[1190,278,1395,325],[1390,285,1420,320],[990,352,1120,368],[1240,355,1290,375],[1345,420,1335,400],[1380,595,1335,400],[1300,440,1310,400]];
leaders(a1LeaderLayout,0,0,.8929,1.0204,axesLayer,'a1');
leaders(a2LeaderLayout,0,1650,.8929,1.0274,axesLayer,'a2');
thresholds(a1Thresholds,a1Y,axesLayer,'a1');
thresholds(a2Thresholds,a2Y,axesLayer,'a2');
xTicks(a1XTicks,a1X,1297,1,axesLayer,'a1');
yTicks(a1YTicks,a1Y,149,1,axesLayer,'a1');
xTicks(a2XTicks,a2X,2962,1,axesLayer,'a2');
yTicks(a2YTicks,a2Y,149,1,axesLayer,'a2');
xTicks(c1XTicks,c1X,1330,2,axesLayer,'c1');
yTicks(c1YTicks,c1Y,3228,0,axesLayer,'c1');
xTicks(c2XTicks,c2X,2984,0,axesLayer,'c2');
yTicks(c2YTicks,c2Y,3249,0,axesLayer,'c2');
legendTicks(a1PiTicks,piBarA1,1449,1523,1577,1,axesLayer,'a1-pi',true);
legendTicks(a2PiTicks,piBarA2,3106,3181,3235,0,axesLayer,'a2-pi',true);
legendTicks(c1LegendTicks,rankBarC1,1474,1548,0,0,axesLayer,'c1-rank',false);
legendTicks(c2LegendTicks,rankBarC2,3129,3203,0,0,axesLayer,'c2-rank',false);

// ---------- TF scatter ----------
function scatter(xs,ys,ranks,fx,fy,layer,name){
  xs.forEach((v,i)=>{
    const c=mk('circle',{cx:fx(v),cy:fy(ys[i]),r:17,fill:rankColor(ranks[i])},layer);
    
    
  });
}
scatter(c1ExtraFold,c1ExtraScore,c1ExtraRank,c1X,c1Y,$('c1-marks'),'c1-tf-point');
scatter(c1Fold,c1Score,c1Rank,c1X,c1Y,$('c1-marks'),'c1-tf-point');
c1CoreFold.forEach((v,i)=>{
  const d=mk('circle',{cx:c1X(v),cy:c1Y(c1CoreScore[i]),r:9,fill:'#000'},$('c1-marks'));
  
  
});
scatter(c2ExtraFold,c2ExtraScore,c2ExtraRank,c2X,c2Y,$('c2-marks'),'c2-tf-point');
scatter(c2Fold,c2Score,c2Rank,c2X,c2Y,$('c2-marks'),'c2-tf-point');
scatter(c2CoreFold,c2CoreScore,c2CoreRank,c2X,c2Y,$('c2-marks'),'c2-top-tf-point');
c2CoreFold.forEach((v,i)=>{
  const d=mk('circle',{cx:c2X(v),cy:c2Y(c2CoreScore[i]),r:9,fill:'#000'},$('c2-marks'));
  
  
});
const c1LeaderLayout=[[470,808,535,790],[820,830,840,810],[470,1005,495,1015],[385,875,395,885],[465,935,480,920]];
const c2LeaderLayout=[[400,455,425,455],[410,600,425,575],[690,700,705,718],[690,830,700,845],[775,780,800,790],[415,855,415,935],[360,980,385,945],[350,895,370,910],[475,997,495,1000],[755,970,800,995],[822,870,820,895]];
leaders(c1LeaderLayout,3000,0,.949,1.0204,axesLayer,'c1');
leaders(c2LeaderLayout,3000,1650,.949,1.0274,axesLayer,'c2');

// ---------- networks ----------
const hubFill='#e8c591';
const B1={ox:1300,oy:0,sx:1.148,sy:1.0204,edges:$('b1-edges'),nodes:$('b1-nodes'),prefix:'b1',hubs:{
  immune:[487,432,24],adaptive:[455,462,24],positive:[365,478,24],activation:[610,520,22],diff:[680,655,26],bacterium:[390,828,26],
  atp:[1312,352,18],somito:[1258,880,13],xray:[1283,1020,12],neural:[1275,1087,17],limb:[1065,1325,22]}};
const B2={ox:1300,oy:1650,sx:1.148,sy:1.0274,edges:$('b2-edges'),nodes:$('b2-nodes'),prefix:'b2',hubs:{
  diff:[755,285,24],mito:[495,440,26],topo:[333,478,20],loc:[417,710,24],inner:[597,670,22],prot:[688,615,22],
  kinase:[1327,715,12],homo:[1213,868,14],neuron:[1160,1092,26],sensory:[713,1290,17],actin:[917,1300,21]}};
const px=(P,z)=>P.ox+P.sx*z, py=(P,z)=>P.oy+P.sy*z;
function addNode(P,names,zx,zy,pi){
  names.forEach(n=>{
    const h=P.hubs[n];
    const l=mk('line',{x1:px(P,h[0]),y1:py(P,h[1]),x2:px(P,zx),y2:py(P,zy),stroke:'#bcbcbc','stroke-width':3},P.edges);
    
    
  });
  const c=mk('circle',{cx:px(P,zx),cy:py(P,zy),r:12.5,fill:piColor(pi)},P.nodes);
  
  
}
// radial stagger keeps the force-layout look: rings are never perfectly round
const ringStagger=[0,.05,-.04,.03,-.06,.02,-.02,.06];
function fan(P,names,r,a0,a1,pis){
  const h=P.hubs[names[0]];
  pis.forEach((pi,i)=>{
    const t=(a0+(a1-a0)*i/Math.max(1,pis.length-1))*Math.PI/180;
    const rr=r*(1+ringStagger[i%ringStagger.length]);
    addNode(P,names,h[0]+rr*Math.cos(t),h[1]+rr*Math.sin(t),pi);
  });
}
function cluster(P,names,layout,pis){
  layout.forEach((c,i)=>addNode(P,names,c[0],c[1],pis[i%pis.length]));
}
function drawHubs(P){
  for(const n in P.hubs){
    const h=P.hubs[n];
    const c=mk('circle',{cx:px(P,h[0]),cy:py(P,h[1]),r:h[2]*1.08,fill:hubFill},P.nodes);
    
    
  }
}

// B1
fan(B1,['bacterium'],240,50,185,b1BactOuterPi);
fan(B1,['bacterium'],182,55,190,b1BactMidPi);
fan(B1,['bacterium'],125,60,170,b1BactInnerPi);
fan(B1,['diff'],218,75,-5,b1DiffOuterPi);
fan(B1,['diff'],155,80,12,b1DiffInnerPi);
fan(B1,['immune'],262,-102,-44,b1TopOuterPi);
fan(B1,['immune'],222,-108,-45,b1TopMidPi);
fan(B1,['adaptive'],170,-120,-40,b1TopInnerPi);
fan(B1,['adaptive'],110,-130,-45,b1TopCorePi);
fan(B1,['positive'],228,-120,-200,b1LeftOuterPi);
fan(B1,['positive'],190,-95,-140,b1LeftMidPi);
fan(B1,['positive'],130,-90,-165,b1LeftInnerPi);
fan(B1,['positive'],240,-100,-70,b1GapPi);
fan(B1,['adaptive'],210,-135,-105,b1GapInnerPi);
fan(B1,['activation'],280,-65,18,b1ActivOuterPi);
fan(B1,['activation'],190,-60,45,b1ActivMidPi);
fan(B1,['activation'],110,-70,60,b1ActivInnerPi);
const b1SharedLayout=[[248,678],[258,688],[330,708],[375,668],[346,650],[350,630],[318,617],[332,590],[345,600],[395,580],[400,600],[475,628],[425,630],[462,662],[505,660],[530,640],[500,635],[557,678],[541,708],[533,690]];
cluster(B1,['bacterium','positive'],b1SharedLayout.slice(0,11),b1SharedPi.slice(0,11));
cluster(B1,['bacterium','diff'],b1SharedLayout.slice(11),b1SharedPi.slice(11));
cluster(B1,['bacterium','diff'],[[565,838],[584,862],[597,868],[580,830]],b1TailPi);
cluster(B1,['atp'],[[1209,98],[1241,83],[1279,103],[1313,131],[1346,162],[1371,198],[1399,239],[1422,284],[1436,332],[1448,385],[1402,460],[1443,493],[1416,530],[1378,524],[1336,493],[1207,148],[1248,150],[1222,210],[1287,197],[1256,262],[1326,249],[1258,318],[1369,299],[1397,385]],b1AtpPi);
cluster(B1,['atp','somito'],[[1330,635]],b1BridgePi);
cluster(B1,['somito'],[[1380,790],[1402,832],[1328,866]],b1SomitoPi);
cluster(B1,['neural'],[[1416,900],[1360,911],[1405,948],[1292,960],[1342,968],[1370,1028],[1415,1000],[1369,1098],[1376,1152],[1320,1170],[1346,1206],[1306,1232]],b1NeuralPi);
cluster(B1,['neural','limb','somito'],[[1185,1107],[1177,1131],[1157,1115]],b1SharedLimbPi);
cluster(B1,['limb'],[[1060,1245],[1215,1264],[975,1310],[1153,1320],[1208,1337],[1200,1382],[1160,1380],[1113,1416],[1168,1427],[1126,1463],[1084,1483],[1050,1503],[1050,1435],[1007,1515],[966,1513],[928,1515],[887,1498],[867,1468],[922,1465],[955,1432],[1002,1463],[882,1424],[907,1394],[987,1377],[1040,1390],[1090,1400]],b1LimbPi);
cluster(B1,['limb','neural'],[[1187,1243],[1160,1224],[1215,1264]],b1LimbTopPi);
drawHubs(B1);

// B2
fan(B2,['diff'],235,-115,30,b2DiffOuterPi);
fan(B2,['diff'],185,-112,35,b2DiffMidPi);
fan(B2,['diff'],130,-105,40,b2DiffInnerPi);
fan(B2,['diff'],80,-90,25,b2DiffCorePi);
fan(B2,['mito'],225,-142,-60,b2MitoOuterPi);
fan(B2,['mito'],178,-150,-55,b2MitoMidPi);
fan(B2,['mito'],130,-145,-50,b2MitoInnerPi);
fan(B2,['mito'],85,-130,-55,b2MitoCorePi);
fan(B2,['topo'],212,125,260,b2TopoOuterPi);
fan(B2,['topo'],155,130,255,b2TopoMidPi);
fan(B2,['topo'],100,130,240,b2TopoInnerPi);
fan(B2,['loc'],220,60,180,b2LocOuterPi);
fan(B2,['loc'],170,62,178,b2LocMidPi);
fan(B2,['loc'],120,65,175,b2LocInnerPi);
fan(B2,['inner'],175,20,110,b2InnerOuterPi);
fan(B2,['inner'],135,25,105,b2InnerMidPi);
fan(B2,['prot'],205,-50,10,b2ProtOuterPi);
fan(B2,['prot'],150,-55,15,b2ProtMidPi);
cluster(B2,['mito','prot','diff'],[[590,450],[610,445],[648,432],[630,465],[650,460],[670,450],[600,475],[620,485],[645,480],[668,475],[590,490],[610,500]],b2ClusterPi.slice(0,12));
cluster(B2,['mito','inner','loc'],[[350,550],[375,545],[345,570],[370,575],[395,555],[570,530],[600,540],[625,535],[580,560],[610,565],[640,555],[250,665],[275,672],[300,675]],b2ClusterPi.slice(12,26));
cluster(B2,['topo','mito'],[[375,455],[400,445],[345,440],[320,435]],b2ClusterPi.slice(26));
cluster(B2,['kinase'],[[1330,485],[1351,472],[1377,492],[1395,522],[1413,553],[1423,590],[1434,620],[1440,657],[1325,520],[1357,515],[1380,558],[1338,555],[1395,590],[1360,590]],b2KinasePi);
cluster(B2,['homo','kinase'],[[1282,730],[1308,752],[1330,725],[1355,741],[1371,769],[1386,798],[1364,817],[1393,831],[1395,855],[1400,880],[1265,712],[1310,755]],b2HomoPi);
fan(B2,['neuron','homo'],185,-155,-20,b2NeuronTopOuterPi);
fan(B2,['neuron'],140,-160,-15,b2NeuronTopMidPi);
fan(B2,['neuron'],90,-150,-25,b2NeuronTopInnerPi);
fan(B2,['neuron'],180,25,112,b2NeuronLowOuterPi);
fan(B2,['neuron'],115,30,120,b2NeuronLowMidPi);
cluster(B2,['neuron','actin'],[[955,1165],[960,1203],[1045,1225],[1025,1195]],b2BridgePi);
fan(B2,['sensory'],185,90,178,b2SensoryOuterPi);
fan(B2,['sensory'],125,95,170,b2SensoryMidPi);
fan(B2,['sensory'],70,95,165,b2SensoryInnerPi);
fan(B2,['actin'],195,20,178,b2ActinOuterPi);
fan(B2,['actin'],140,25,175,b2ActinMidPi);
fan(B2,['actin'],90,30,170,b2ActinInnerPi);
cluster(B2,['actin','sensory'],[[785,1228],[807,1213],[833,1222],[855,1200],[880,1220],[770,1285]],b2ActinTopPi);
const mask=mk('rect',{x:px(B2,505),y:py(B2,1398),width:B2.sx*123,height:B2.sy*95,fill:'#fff'},B2.nodes);


drawHubs(B2);

// ---------- place inline labels from panel coordinates ----------
document.querySelectorAll('g.zoomed').forEach(g=>{
  const t=g.getAttribute('data-t').split(',').map(Number);
  const fs=g.classList.contains('term')?44:36;
  g.querySelectorAll('text').forEach(e=>{
    const x=parseFloat(e.getAttribute('x')),y=parseFloat(e.getAttribute('y'));
    e.setAttribute('x',t[0]+t[2]*x);
    e.setAttribute('y',t[1]+t[3]*y+.36*fs);
  });
});
</script>
</body>
</html>
